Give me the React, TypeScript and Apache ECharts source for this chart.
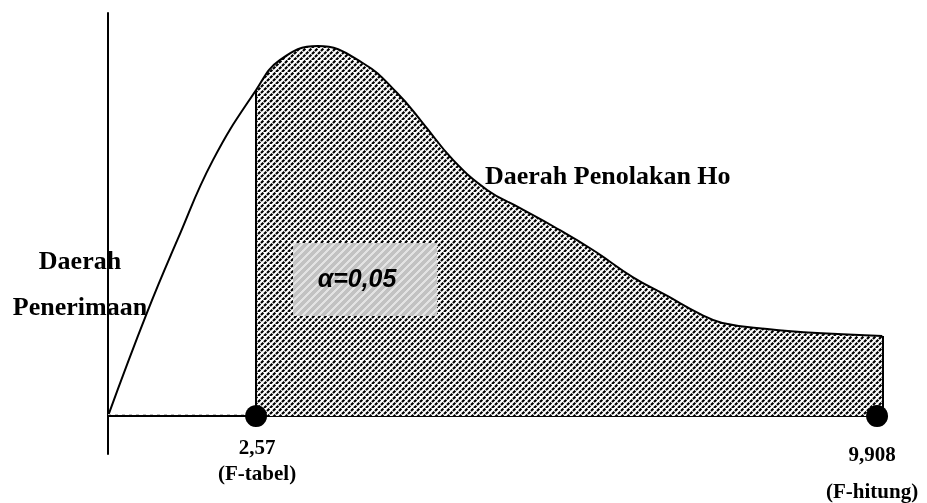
import React, { useEffect, useRef } from 'react';
import * as echarts from 'echarts';

// Schematic F-distribution density: x in F units, y in relative density
const curveX = [0.82, 1.28, 1.64, 2.06, 2.57, 2.85, 3.3, 3.83, 4.24, 4.54, 4.9, 5.3, 5.69, 6.08, 6.55, 7.02, 7.43, 7.82, 8.08, 8.61, 9.2, 9.97];
const curveY = [0, 0.256, 0.437, 0.635, 0.809, 0.883, 0.918, 0.876, 0.801, 0.727, 0.635, 0.561, 0.516, 0.471, 0.412, 0.345, 0.298, 0.253, 0.231, 0.216, 0.206, 0.199];

// Critical value (F-tabel) and computed statistic (F-hitung)
const criticalValues = [2.57, 9.908];
const criticalLabels = ['2,57', '9,908'];
const criticalNotes = ['(F-tabel)', '(F-hitung)'];

const alphaText = 'α=0,05';
const rejectLabel = 'Daerah Penolakan Ho';
const acceptLabel = ['Daerah', 'Penerimaan'];

const SERIF = '"Liberation Serif", "Times New Roman", serif';

function makeTile(size: number, paint: (ctx: CanvasRenderingContext2D) => void): string {
  const c = document.createElement('canvas');
  c.width = size;
  c.height = size;
  const ctx = c.getContext('2d') as CanvasRenderingContext2D;
  paint(ctx);
  return c.toDataURL();
}

export default function App() {
  const ref = useRef<HTMLDivElement>(null);

  useEffect(() => {
    if (!ref.current) return;
    const chart = echarts.init(ref.current, null, { renderer: 'svg' });

    // dashed upward-diagonal hatch; dash period divides the tile diagonal so it tiles seamlessly
    const hatch = makeTile(12, (ctx) => {
      ctx.fillStyle = '#fff';
      ctx.fillRect(0, 0, 12, 12);
      ctx.strokeStyle = '#000';
      ctx.lineWidth = 2.2;
      const period = (12 * Math.SQRT2) / 4;
      ctx.setLineDash([period * 0.78, period * 0.22]);
      for (let x0 = -12; x0 <= 12; x0 += 6) {
        ctx.beginPath();
        ctx.moveTo(x0, 12);
        ctx.lineTo(x0 + 12, 0);
        ctx.stroke();
      }
    });
    // light grey striped fill behind the alpha note
    const greyTile = makeTile(8, (ctx) => {
      ctx.fillStyle = '#c2c2c2';
      ctx.fillRect(0, 0, 8, 8);
      ctx.fillStyle = '#e3e3e3';
      for (let y = 0; y < 8; y++) {
        for (let x = 0; x < 8; x++) {
          const d = (x + y) % 8;
          if (d === 0 || d === 1 || d === 2) ctx.fillRect(x, y, 1, 1);
        }
      }
    });

    const curveData = curveX.map((x, i) => [x, curveY[i]]);
    const rejectData = curveData.filter((p) => p[0] >= criticalValues[0]);
    const first = rejectData[0];
    const last = rejectData[rejectData.length - 1];

    const markers = criticalValues.map((v, i) => ({
      value: [v, 0],
      label: {
        formatter: criticalLabels[i] + '\n' + criticalNotes[i],
        lineHeight: i === 0 ? 26 : 37,
        distance: i === 0 ? 7 : 8,
        offset: i === 0 ? [1, 0] : [-5, 0],
      },
    }));

    const textStyle = (text: string, size: number, align: string) => ({
      text,
      fill: '#000',
      fontFamily: SERIF,
      fontWeight: 'bold',
      fontSize: size,
      textAlign: align,
      align,
      textVerticalAlign: 'middle',
      verticalAlign: 'middle',
    });

    chart.setOption({
      animation: false,
      grid: { left: 108, right: 44.7, top: 13, bottom: 49 },
      xAxis: {
        type: 'value',
        min: 0.82,
        max: 9.97,
        axisLine: { show: true, onZero: true, lineStyle: { color: '#000', width: 2 } },
        axisTick: { show: false },
        axisLabel: { show: false },
        splitLine: { show: false },
      },
      yAxis: {
        type: 'value',
        min: -0.094,
        max: 1,
        axisLine: { show: true, onZero: false, lineStyle: { color: '#000', width: 2 } },
        axisTick: { show: false },
        axisLabel: { show: false },
        splitLine: { show: false },
      },
      series: [
        {
          type: 'line',
          name: 'rejection',
          data: rejectData,
          smooth: 0.45,
          symbol: 'none',
          z: 1,
          lineStyle: { opacity: 0 },
          areaStyle: {
            opacity: 1,
            color: { image: hatch, repeat: 'repeat', imageWidth: 12, imageHeight: 12 },
          },
          markLine: {
            silent: true,
            symbol: 'none',
            label: { show: false },
            lineStyle: { color: '#000', width: 2, type: 'solid' },
            data: [
              [{ coord: [first[0], 0] }, { coord: [first[0], first[1]] }],
              [{ coord: [last[0], 0] }, { coord: [last[0], last[1]] }],
            ],
          },
        },
        {
          type: 'line',
          name: 'density',
          data: curveData,
          smooth: 0.45,
          symbol: 'none',
          z: 3,
          lineStyle: { color: '#000', width: 2 },
          markLine: {
            silent: true,
            symbol: 'none',
            label: { show: false },
            lineStyle: { color: '#bbb', width: 1, type: [3, 4] },
            data: [[{ coord: [curveX[0], 0.005] }, { coord: [criticalValues[0], 0.005] }]],
          },
        },
        {
          type: 'scatter',
          data: markers,
          symbolSize: 22,
          z: 5,
          itemStyle: { color: '#000', opacity: 1 },
          label: {
            show: true,
            position: 'bottom',
            color: '#000',
            fontFamily: SERIF,
            fontWeight: 'bold',
            fontSize: 21,
            align: 'center',
          },
        },
      ],
      graphic: [
        { type: 'text', x: 485, y: 175, z: 10, style: textStyle(rejectLabel, 26, 'left') },
        { type: 'text', x: 80, y: 260, z: 10, style: textStyle(acceptLabel[0], 26, 'center') },
        { type: 'text', x: 80, y: 306, z: 10, style: textStyle(acceptLabel[1], 26, 'center') },
        {
          type: 'rect',
          z: 10,
          shape: { x: 293, y: 243, width: 144, height: 73 },
          style: { fill: { image: greyTile, repeat: 'repeat', imageWidth: 8, imageHeight: 8 } },
        },
        {
          type: 'text',
          x: 357,
          y: 278,
          z: 11,
          style: {
            text: alphaText,
            fill: '#000',
            fontFamily: '"Liberation Sans", Arial, sans-serif',
            fontStyle: 'italic',
            fontWeight: 'bold',
            fontSize: 25,
            textAlign: 'center',
            align: 'center',
            textVerticalAlign: 'middle',
            verticalAlign: 'middle',
          },
        },
      ],
    });

    return () => chart.dispose();
  }, []);

  return <div ref={ref} style={{ position: 'fixed', left: 0, top: 0, width: 927, height: 503 }} />;
}
